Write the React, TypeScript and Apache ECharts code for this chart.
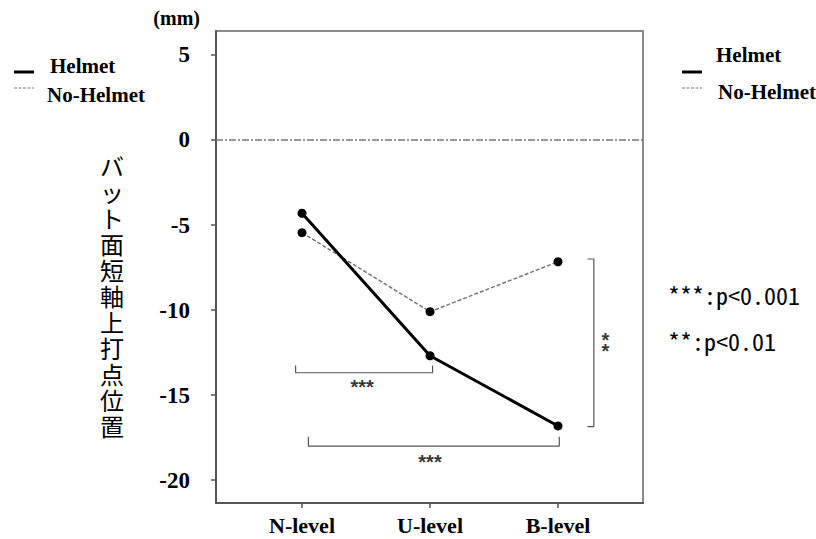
import React, { useEffect, useRef } from "react";
import * as echarts from "echarts";

const categories = ["N-level", "U-level", "B-level"];
const helmet = [-4.31, -12.69, -16.82];
const noHelmet = [-5.45, -10.1, -7.16];
const yTicks = [5, 0, -5, -10, -15, -20];
const xTicks = [0, 1, 2];
const bracketNU = [[-0.05, -13.27], [-0.05, -13.69], [1.02, -13.69], [1.02, -13.27]];
const bracketNB = [[0.05, -17.45], [0.05, -18.0], [2.01, -18.0], [2.01, -17.45]];
const bracketUB = [[2.23, -7.0], [2.28, -7.0], [2.28, -16.86], [2.23, -16.86]];
const sigMarks = [
  { value: [0.47, -14.55], text: "***" },
  { value: [1.0, -18.95], text: "***" },
  { value: [2.37, -12.1], text: "*\n*" },
];
const pNotes = ["***:p<0.001", "**:p<0.01"];
const yTitle = "バット面短軸上打点位置";

const serif = "'Liberation Serif', 'Times New Roman', serif";
const sans = "'Liberation Sans', Arial, sans-serif";

export default function App() {
  const ref = useRef<HTMLDivElement>(null);
  useEffect(() => {
    const chart = echarts.init(ref.current!, null, { renderer: "svg" });
    const bracketStyle = { color: "#555", width: 1.2 };
    const mkBracket = (d: number[][]) => ({
      type: "line",
      data: d,
      symbol: "none",
      silent: true,
      lineStyle: bracketStyle,
      z: 1,
    });
    const legendBlock = (
      x0: number,
      y1: number,
      y2: number,
      tx1: number,
      tx2: number,
      ty1: number,
      ty2: number
    ) => [
      { type: "line", shape: { x1: x0, y1, x2: x0 + 20, y2: y1 }, style: { stroke: "#000", lineWidth: 3 } },
      { type: "line", shape: { x1: x0, y1: y2, x2: x0 + 20, y2 }, style: { stroke: "#777", lineWidth: 1, lineDash: [3, 1.5] } },
      { type: "text", x: tx1, y: ty1, style: { text: "Helmet", fontFamily: serif, fontWeight: "bold", fontSize: 21, fill: "#000", verticalAlign: "middle" } },
      { type: "text", x: tx2, y: ty2, style: { text: "No-Helmet", fontFamily: serif, fontWeight: "bold", fontSize: 21, fill: "#000", verticalAlign: "middle" } },
    ];
    chart.setOption({
      animation: false,
      backgroundColor: "#fff",
      grid: {
        left: 216,
        top: 31,
        right: 173,
        bottom: 36,
        show: true,
        borderColor: "#666",
        borderWidth: 1.5,
        backgroundColor: "transparent",
      },
      xAxis: {
        type: "value",
        min: -0.672,
        max: 2.664,
        splitLine: { show: false },
        axisLine: { show: true, onZero: false, lineStyle: { color: "#555", width: 2 } },
        axisTick: { show: true, customValues: xTicks, length: 5, lineStyle: { color: "#555", width: 1.5 } },
        axisLabel: {
          customValues: xTicks,
          margin: 11,
          formatter: (v: number) => categories[Math.round(v)] ?? "",
          color: "#000",
          fontFamily: serif,
          fontWeight: "bold",
          fontSize: 22,
        },
      },
      yAxis: {
        type: "value",
        min: -21.35,
        max: 6.41,
        name: "(mm)",
        nameLocation: "end",
        nameGap: 3,
        nameTextStyle: {
          align: "right",
          padding: [0, 16, 0, 0],
          color: "#000",
          fontFamily: serif,
          fontWeight: "bold",
          fontSize: 20,
        },
        splitLine: { show: false },
        axisLine: { show: true, onZero: false, lineStyle: { color: "#555", width: 2 } },
        axisTick: { show: true, customValues: yTicks, length: 5, lineStyle: { color: "#555", width: 1.5 } },
        axisLabel: {
          customValues: yTicks,
          margin: 26,
          color: "#000",
          fontFamily: serif,
          fontWeight: "bold",
          fontSize: 23,
        },
      },
      series: [
        {
          name: "Helmet",
          type: "line",
          data: helmet.map((v, i) => [i, v]),
          symbol: "circle",
          symbolSize: 9,
          itemStyle: { color: "#000" },
          lineStyle: { color: "#000", width: 3 },
          z: 5,
          markLine: {
            silent: true,
            symbol: "none",
            label: { show: false },
            lineStyle: { color: "#777", width: 1.5, type: [7, 2, 2, 2] },
            data: [{ yAxis: 0 }],
          },
        },
        {
          name: "No-Helmet",
          type: "line",
          data: noHelmet.map((v, i) => [i, v]),
          symbol: "circle",
          symbolSize: 9,
          itemStyle: { color: "#000" },
          lineStyle: { color: "#777", width: 1.5, type: [4, 2] },
          z: 4,
        },
        mkBracket(bracketNU),
        mkBracket(bracketNB),
        mkBracket(bracketUB),
        {
          type: "scatter",
          symbolSize: 0,
          silent: true,
          data: sigMarks.map((m) => ({ value: m.value, label: { formatter: m.text } })),
          label: {
            show: true,
            position: "inside",
            color: "#000",
            fontFamily: sans,
            fontWeight: "bold",
            fontSize: 20,
            lineHeight: 11,
          },
        },
      ],
      graphic: [
        ...legendBlock(14, 72, 88, 50, 47, 66, 95),
        ...legendBlock(682, 72, 88, 716, 718, 55, 92),
        {
          type: "text",
          x: 112,
          y: 295,
          style: {
            text: yTitle.split("").join("\n"),
            fontFamily: "'Noto Sans CJK JP', sans-serif",
            fontSize: 24,
            lineHeight: 26,
            fill: "#000",
            align: "center",
            verticalAlign: "middle",
          },
        },
        ...pNotes.map((t, i) => ({
          type: "text",
          x: 668,
          y: i === 0 ? 294 : 340,
          style: {
            text: t,
            fontFamily: "'Noto Sans Mono CJK JP', 'DejaVu Sans Mono', monospace",
            fontSize: 24,
            fill: "#000",
            verticalAlign: "middle",
          },
        })),
      ],
    });
    return () => chart.dispose();
  }, []);
  return (
    <div
      ref={ref}
      style={{ position: "fixed", left: 0, top: 0, width: 816, height: 539 }}
    />
  );
}
